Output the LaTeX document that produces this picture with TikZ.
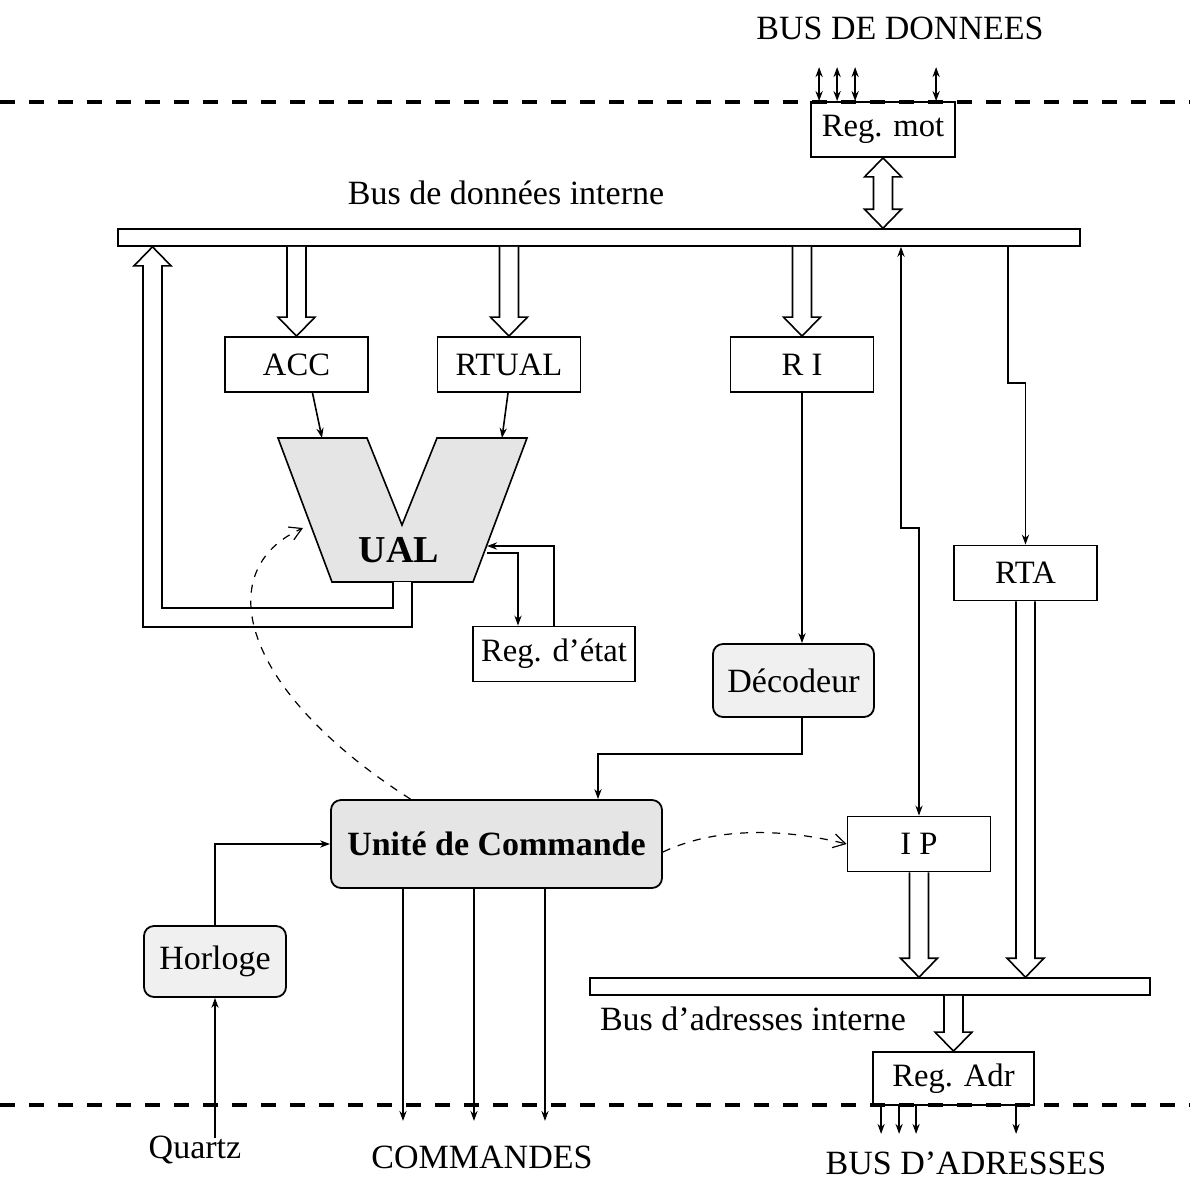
\documentclass[tikz,border=0pt]{standalone}
\usepackage{fontspec}
\setmainfont{Liberation Serif}
\usetikzlibrary{positioning,calc,arrows.meta}

\newlength{\unitpx}\setlength{\unitpx}{0.5pt}
\newcommand{\shaftw}{4.75pt}
\newcommand{\headw}{9.25pt}
\newcommand{\headl}{9.5pt}

\tikzset{
  reg/.style={draw, fill=white, line width=0.9pt, inner sep=0pt, minimum width=143\unitpx, minimum height=55\unitpx,
    font=\fontsize{16.3}{19}\selectfont},
  soft/.style={draw, line width=0.9pt, rounded corners=5pt, inner sep=0pt, fill=gray!12},
  bar/.style={draw, fill=white, line width=0.8pt, inner sep=0pt, minimum height=17\unitpx},
  fatarrow/.style={draw, fill=white, line width=0.8pt},
  wire/.style={line width=0.8pt},
  ctrl/.style={line width=0.6pt, dash pattern=on 4pt off 4pt, -{Straight Barb[length=6pt,width=7pt]}},
  frontier/.style={line width=2pt, dash pattern=on 7.5pt off 7pt},
}

% fat bus arrow, pointing down
\newcommand{\fatdown}[2]{%
  \draw[fatarrow] let \p1=(#1), \p2=(#2) in
    (\x1-\shaftw,\y1) -- (\x1-\shaftw,\y2+\headl) -- (\x1-\headw,\y2+\headl) -- (\x1,\y2)
    -- (\x1+\headw,\y2+\headl) -- (\x1+\shaftw,\y2+\headl) -- (\x1+\shaftw,\y1);}
% fat bus arrow, both ways
\newcommand{\fatboth}[2]{%
  \draw[fatarrow] let \p1=(#1), \p2=(#2) in
    (\x1,\y1) -- (\x1+\headw,\y1-\headl) -- (\x1+\shaftw,\y1-\headl) -- (\x1+\shaftw,\y2+\headl)
    -- (\x1+\headw,\y2+\headl) -- (\x1,\y2) -- (\x1-\headw,\y2+\headl) -- (\x1-\shaftw,\y2+\headl)
    -- (\x1-\shaftw,\y1-\headl) -- (\x1-\headw,\y1-\headl) -- cycle;}

\begin{document}
\begin{tikzpicture}[x=0.5pt, y=-0.5pt, >={Stealth[length=5pt,width=3.6pt]},
  every node/.style={font=\fontsize{17}{20}\selectfont}]
\useasboundingbox (0,0) rectangle (1190,1180);

% UAL
\draw[line width=0.8pt, fill=gray!20] (278,438) -- (367,438) -- (402,525) -- (437,438) -- (527,438) -- (473,582) -- (332,582) -- cycle;
\node[font=\bfseries\fontsize{19}{22}\selectfont] (ual) at (399,550) {UAL};
\coordinate (ualin1) at (322,438);
\coordinate (ualin2) at (502,438);
\coordinate (ualbot) at (402.5,582);
\coordinate (ualst1) at (487,546);
\coordinate (ualst2) at (487,553);
\coordinate (ualcmd) at (303,528);
\coordinate (fbcorner) at (152.5,617.5);
\coordinate (ipjog) at (901,528);
\coordinate (rtajog) at (1008,383);
\coordinate (qz) at (215,1138);

% registres et blocs
\node[reg, minimum width=144\unitpx] (rmot) at (883,129.5) {Reg. mot};
\node[bar, minimum width=962\unitpx] (dbus) at (599,237.5) {};
\node[reg] (acc) at (296.5,364.5) {ACC};
\node[reg] (rtual) at (509,364.5) {RTUAL};
\node[reg] (ri) at (802,364.5) {R I};
\node[reg] (rta) at (1025.5,573) {RTA};
\node[reg, minimum width=162\unitpx] (etat) at (554,654) {Reg. d'état};
\node[soft, minimum width=161\unitpx, minimum height=73\unitpx] (deco) at (793.5,680.5) {Décodeur};
\node[soft, fill=gray!20, minimum width=331\unitpx, minimum height=88\unitpx,
  font=\bfseries\fontsize{17}{20}\selectfont] (uc) at (496.5,844) {Unité de Commande};
\node[reg] (ip) at (919,844) {I P};
\node[soft, minimum width=142\unitpx, minimum height=71\unitpx] (horl) at (215,961.5) {Horloge};
\node[bar, minimum width=560\unitpx] (abus) at (870,986.5) {};
\node[reg, minimum width=161\unitpx, minimum height=53\unitpx] (radr) at (953.5,1078.5) {Reg. Adr};

% textes
\node (tdbus) at (900,28) {BUS DE DONNEES};
\node (tdint) at (506,193) {Bus de données interne};
\node (taint) at (753,1019) {Bus d'adresses interne};
\node (tquartz) at (195,1150) {Quartz};
\node (tcmd) at (482,1157) {COMMANDES};
\node (tadr) at (966,1163) {BUS D'ADRESSES};

% bus
\fatboth{rmot.south}{rmot.south |- dbus.north}
\fatdown{acc.north |- dbus.south}{acc.north}
\fatdown{rtual.north |- dbus.south}{rtual.north}
\fatdown{ri.north |- dbus.south}{ri.north}
\fatdown{ip.south}{ip.south |- abus.north}
\fatdown{rta.south}{rta.south |- abus.north}
\fatdown{radr.north |- abus.south}{radr.north}
\draw[fatarrow] let \p1=(ualbot), \p2=(dbus.south -| fbcorner), \p3=(fbcorner) in
  (\x1-\shaftw,\y1) |- (\x3+\shaftw,\y3+\shaftw) -- (\x3+\shaftw,\y2-\headl) -- (\x3+\headw,\y2-\headl)
  -- (\x3,\y2) -- (\x3-\headw,\y2-\headl) -- (\x3-\shaftw,\y2-\headl) |- (\x1+\shaftw,\y3-\shaftw)
  -- (\x1+\shaftw,\y1);

% fils
\draw[wire,->] ([xshift=16\unitpx]acc.south) -- (ualin1);
\draw[wire,->] ([xshift=-1\unitpx]rtual.south) -- (ualin2);
\draw[wire,->] (etat.north) |- (ualst1);
\draw[wire,->] (ualst2) -| ([xshift=-36\unitpx]etat.north);
\draw[wire,->] (ri.south) -- (ri.south |- deco.north);
\draw[wire,->] (ri.south |- deco.south) -- ++(0,36) -| ([xshift=101.5\unitpx]uc.north);
\draw[wire,<->] (dbus.south -| ipjog) -- (ipjog) -| (ip.north);
\draw[wire,->] (dbus.south -| rtajog) -- (rtajog) -| (rta.north);
\draw[wire,->] (horl.north) |- (uc.west);
\draw[wire,->] (qz) -- (horl.south);
\foreach \dx in {-93.5,-22.5,48.5}
  \draw[wire,->] ([xshift=\dx\unitpx]uc.south) -- ++(0,232);
\foreach \dx in {9,27,45,126}
  \draw[wire,<->] ([xshift=\dx\unitpx]rmot.north west) -- ++(0,-34);
\foreach \dx in {9,27,44,144}
  \draw[wire,->] ([xshift=\dx\unitpx]radr.south west) -- ++(0,28);

% commandes
\draw[ctrl] ([xshift=-86\unitpx]uc.north) .. controls (240,690) and (210,570) .. (ualcmd);
\draw[ctrl] ([yshift=-8\unitpx]uc.east) .. controls (720,825) and (790,830) .. (ip.west);

% limites
\draw[frontier] (0,102) -- (1190,102);
\draw[frontier] (0,1105) -- (1190,1105);
\end{tikzpicture}
\end{document}
